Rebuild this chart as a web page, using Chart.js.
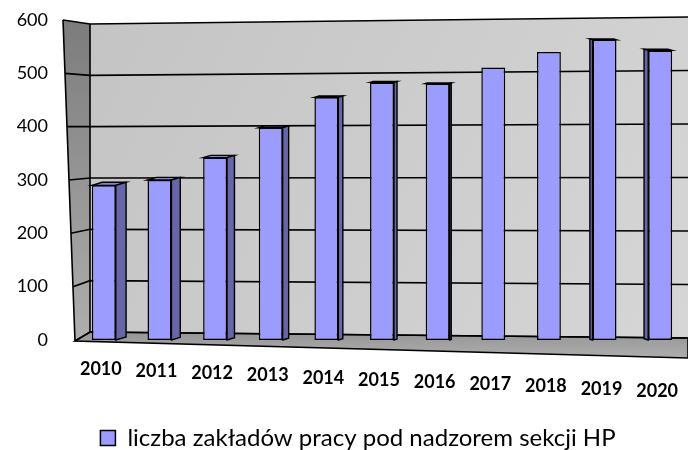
<!DOCTYPE html>
<html>
<head>
<meta charset="utf-8">
<script src="https://cdn.jsdelivr.net/npm/chart.js@4.4.1/dist/chart.umd.min.js"></script>
<style>
  html, body { margin: 0; padding: 0; background: #ffffff; }
  canvas { display: block; }
</style>
</head>
<body>
<canvas id="c" width="688" height="450"></canvas>
<script>
// ---- data ----
const categories = ['2010', '2011', '2012', '2013', '2014', '2015', '2016', '2017', '2018', '2019', '2020'];
const values = [290, 300, 342, 398, 455, 483, 481, 511, 540, 563, 543];
const seriesLabel = 'liczba zakładów pracy pod nadzorem sekcji HP';
const yMin = 0;
const yMax = 600;
const yStep = 100;

// ---- 3D-look helpers ----
const wallsPlugin = {
  id: 'walls',
  beforeDatasetsDraw(chart) {
    const ctx = chart.ctx;
    const ca = chart.chartArea;
    const ys = chart.scales.y;
    const L = ca.left, T = ca.top, R = ca.right;
    const backX = L + 14;
    const backL = v => T + 4 + (ys.getPixelForValue(v) - T) * 0.9625;
    const backR = v => T - 3 + (ys.getPixelForValue(v) - T) * 1.003;
    const frontX = y => L - 13 + (y - T) / (ca.bottom - T) * 12;
    ctx.save();
    // back wall
    let g = ctx.createLinearGradient(backX, backL(yMax), R, backR(yMin));
    g.addColorStop(0, '#c4c4c4');
    g.addColorStop(1, '#d6d6d6');
    ctx.fillStyle = g;
    ctx.beginPath();
    ctx.moveTo(backX, backL(yMax));
    ctx.lineTo(R, backR(yMax));
    ctx.lineTo(R, backR(yMin));
    ctx.lineTo(backX, backL(yMin));
    ctx.closePath();
    ctx.fill();
    // left wall
    g = ctx.createLinearGradient(0, T, 0, ca.bottom);
    g.addColorStop(0, '#7c7c7c');
    g.addColorStop(1, '#aeaeae');
    ctx.fillStyle = g;
    ctx.beginPath();
    ctx.moveTo(frontX(ys.getPixelForValue(yMax)), ys.getPixelForValue(yMax));
    ctx.lineTo(backX, backL(yMax));
    ctx.lineTo(backX, backL(yMin));
    ctx.lineTo(frontX(ys.getPixelForValue(yMin)), ys.getPixelForValue(yMin) + 1);
    ctx.closePath();
    ctx.fill();
    // floor
    const fl = ys.getPixelForValue(yMin);
    g = ctx.createLinearGradient(0, fl - 8, 0, fl + 18);
    g.addColorStop(0, '#969696');
    g.addColorStop(1, '#adadad');
    ctx.fillStyle = g;
    ctx.beginPath();
    ctx.moveTo(backX, backL(yMin));
    ctx.lineTo(R, backR(yMin));
    ctx.lineTo(R, fl + 18);
    ctx.lineTo(frontX(fl), fl + 1);
    ctx.closePath();
    ctx.fill();
    ctx.strokeStyle = '#000';
    ctx.lineWidth = 1.6;
    ctx.stroke();
    // grid lines
    ctx.lineWidth = 1.6;
    for (let v = yMin; v <= yMax; v += yStep) {
      const fy = ys.getPixelForValue(v);
      ctx.beginPath();
      ctx.moveTo(frontX(fy), fy + (v === yMin ? 1 : 0));
      ctx.lineTo(backX, backL(v));
      ctx.lineTo(R, backR(v));
      ctx.stroke();
    }
    // wall edges
    ctx.beginPath();
    ctx.moveTo(frontX(ys.getPixelForValue(yMax)), ys.getPixelForValue(yMax));
    ctx.lineTo(frontX(fl), fl + 1);
    ctx.moveTo(backX, backL(yMax));
    ctx.lineTo(backX, backL(yMin));
    ctx.stroke();
    ctx.restore();
  },
  afterDatasetsDraw(chart) {
    const ctx = chart.ctx;
    const meta = chart.getDatasetMeta(0);
    const vx = 500;
    ctx.save();
    ctx.lineWidth = 1.4;
    ctx.strokeStyle = '#000';
    meta.data.forEach(el => {
      const { x, y, base, width } = el.getProps(['x', 'y', 'base', 'width'], true);
      const d = (vx - x) * 0.026;
      const dy = Math.abs(d) * 0.3;
      const hw = width / 2;
      if (Math.abs(d) < 1.5) return;
      // top face
      ctx.fillStyle = '#8585d0';
      ctx.beginPath();
      ctx.moveTo(x - hw, y);
      ctx.lineTo(x - hw + d, y - dy);
      ctx.lineTo(x + hw + d, y - dy);
      ctx.lineTo(x + hw, y);
      ctx.closePath();
      ctx.fill();
      ctx.stroke();
      // side face
      const sx = d > 0 ? x + hw : x - hw;
      ctx.fillStyle = '#6767a8';
      ctx.beginPath();
      ctx.moveTo(sx, y);
      ctx.lineTo(sx + d, y - dy);
      ctx.lineTo(sx + d, base - dy);
      ctx.lineTo(sx, base);
      ctx.closePath();
      ctx.fill();
      ctx.stroke();
    });
    ctx.restore();
  },
  afterDraw(chart) {
    const ctx = chart.ctx;
    const xs = chart.scales.x;
    ctx.save();
    ctx.fillStyle = '#000';
    ctx.font = 'bold 18px Lato';
    ctx.textAlign = 'center';
    ctx.textBaseline = 'middle';
    categories.forEach((c, i) => {
      ctx.fillText(c, xs.getPixelForValue(i) - 3, 369 + i * 2.2);
    });
    ctx.restore();
  },
  afterLayout(chart) {
    if (chart.legend) {
      chart.legend.top += 10;
      chart.legend.bottom += 10;
      chart.legend.left += 14;
      chart.legend.right += 14;
    }
  }
};

new Chart(document.getElementById('c'), {
  type: 'bar',
  data: {
    labels: categories,
    datasets: [{
      label: seriesLabel,
      data: values,
      backgroundColor: '#9c9cff',
      borderColor: '#000000',
      borderWidth: 1.5,
      borderSkipped: false,
      barPercentage: 0.43,
      categoryPercentage: 1.0
    }]
  },
  options: {
    responsive: false,
    animation: false,
    devicePixelRatio: 1,
    layout: { padding: { left: 0, right: 0, top: 20, bottom: 0 } },
    plugins: {
      legend: {
        position: 'bottom',
        align: 'center',
        labels: {
          boxWidth: 15,
          boxHeight: 15,
          color: '#000',
          font: { family: 'Lato', size: 24 },
          padding: 10
        }
      },
      tooltip: { enabled: false }
    },
    scales: {
      x: {
        grid: { display: false, drawTicks: false },
        border: { display: false },
        ticks: { display: false },
        afterFit: s => { s.height = 66; }
      },
      y: {
        min: yMin,
        max: yMax,
        grid: { display: false, drawTicks: false },
        border: { display: false },
        ticks: {
          stepSize: yStep,
          color: '#000',
          font: { family: 'Lato', size: 18 },
          padding: 28
        },
        afterFit: s => { s.width = 76; s.paddingTop = 10; s.paddingBottom = 10; }
      }
    }
  },
  plugins: [wallsPlugin]
});
</script>
</body>
</html>
